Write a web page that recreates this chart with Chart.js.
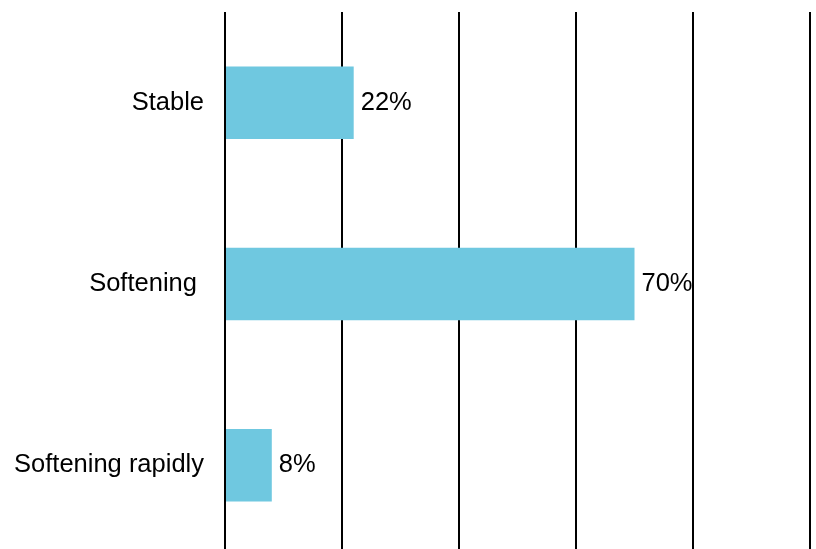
<!DOCTYPE html>
<html>
<head>
<meta charset="utf-8">
<title>Outlook</title>
<script src="https://cdn.jsdelivr.net/npm/chart.js@4"></script>
<style>
    html, body { margin: 0; padding: 0; background: #ffffff; overflow: hidden; }
    #wrap { position: relative; width: 816px; height: 556px; }
</style>
</head>
<body>
<div id="wrap"><canvas id="chart"></canvas></div>
<script>
// 카테고리와 값
const categories = ['Stable', 'Softening ', 'Softening rapidly'];
const shares = [22, 70, 8];
const gridTicks = [0, 20, 40, 60, 80, 100];

const labelFont = { family: '"Liberation Sans", Arial, sans-serif', size: 25.5 };

// 막대 끝에 값 표시
const valueLabels = {
    id: 'valueLabels',
    afterDatasetsDraw(chart) {
        const ctx = chart.ctx;
        const meta = chart.getDatasetMeta(0);
        ctx.save();
        ctx.font = labelFont.size + 'px ' + labelFont.family;
        ctx.fillStyle = '#000000';
        ctx.textAlign = 'left';
        ctx.textBaseline = 'middle';
        meta.data.forEach((bar, i) => {
            ctx.fillText(shares[i] + '%', bar.x + 7, bar.y);
        });
        ctx.restore();
    }
};

// 세로 격자선은 막대 뒤에
new Chart(document.getElementById('chart'), {
    type: 'bar',
    data: {
        labels: categories,
        datasets: [{
            data: shares,
            backgroundColor: '#6FC8E0',
            borderWidth: 0,
            categoryPercentage: 1,
            barPercentage: 0.4
        }]
    },
    options: {
        indexAxis: 'y',
        responsive: true,
        maintainAspectRatio: false,
        animation: false,
        layout: { padding: { top: 12, right: 6, bottom: 0, left: 0 } },
        plugins: {
            legend: { display: false },
            tooltip: { enabled: false }
        },
        scales: {
            x: {
                min: gridTicks[0],
                max: gridTicks[gridTicks.length - 1],
                afterBuildTicks(scale) {
                    scale.ticks = gridTicks.map(v => ({ value: v }));
                },
                afterFit(scale) {
                    scale.paddingLeft = 0;
                    scale.paddingRight = 0;
                },
                ticks: { display: false },
                grid: { color: '#000000', lineWidth: 2, drawTicks: false },
                border: { display: false }
            },
            y: {
                afterFit(scale) {
                    scale.width = 225;
                    scale.paddingTop = 0;
                    scale.paddingBottom = 0;
                },
                ticks: { color: '#000000', font: labelFont, padding: 21 },
                grid: { display: false, drawTicks: false },
                border: { display: false }
            }
        }
    },
    plugins: [valueLabels]
});
</script>
</body>
</html>
